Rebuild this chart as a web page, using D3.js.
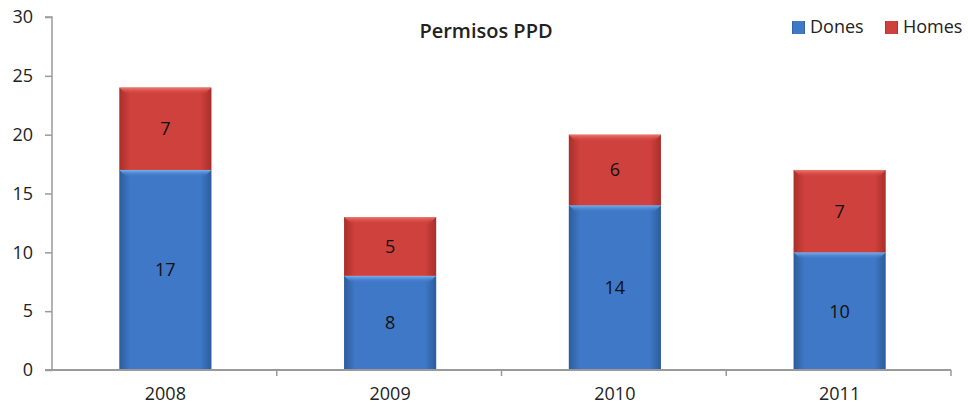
<!DOCTYPE html>
<html>
<head>
<meta charset="utf-8">
<script src="https://cdn.jsdelivr.net/npm/d3@7"></script>
<style>
  body { margin: 0; background: #fff; }
  text { font-family: "Open Sans", "DejaVu Sans", sans-serif; fill: #222; }
</style>
</head>
<body>
<div class="container"></div>
<script>
(function () {

    //chart data
    var years = ["2008", "2009", "2010", "2011"];
    var dones = [17, 8, 14, 10];
    var homes = [7, 5, 6, 7];
    var seriesNames = ["Dones", "Homes"];
    var yTicks = [0, 5, 10, 15, 20, 25, 30];

    var width = 968, height = 409;
    var margin = { top: 17, right: 17, bottom: 39, left: 52 };

    var svg = d3.select(".container")
        .append("svg")
        .attr("width", width)
        .attr("height", height);

    var defs = svg.append("defs");

    //bar gradients, dark edges and light middle
    function makeGrad(id, edge, mid, top) {
        var g = defs.append("linearGradient")
            .attr("id", id)
            .attr("x1", "0").attr("x2", "1").attr("y1", "0").attr("y2", "0");
        g.append("stop").attr("offset", "0%").attr("stop-color", edge);
        g.append("stop").attr("offset", "12%").attr("stop-color", mid);
        g.append("stop").attr("offset", "88%").attr("stop-color", mid);
        g.append("stop").attr("offset", "100%").attr("stop-color", edge);
        var t = defs.append("linearGradient")
            .attr("id", id + "Top")
            .attr("x1", "0").attr("x2", "0").attr("y1", "0").attr("y2", "1");
        t.append("stop").attr("offset", "0%").attr("stop-color", top).attr("stop-opacity", 1);
        t.append("stop").attr("offset", "100%").attr("stop-color", mid).attr("stop-opacity", 0);
    }
    makeGrad("gBlue", "#2d5c9c", "#3f78c6", "#7ab2f2");
    makeGrad("gRed", "#a92e2b", "#cf413c", "#ee7a72");

    var x = d3.scaleBand()
        .domain(years)
        .range([margin.left, width - margin.right])
        .paddingInner(0.59)
        .paddingOuter(0.295);

    var y = d3.scaleLinear()
        .domain([0, 30])
        .range([height - margin.bottom, margin.top]);

    //stack the two series
    var rows = years.map(function (yr, i) {
        return { year: yr, Dones: dones[i], Homes: homes[i] };
    });
    var stacked = d3.stack().keys(seriesNames)(rows);
    var fills = { Dones: "gBlue", Homes: "gRed" };

    stacked.forEach(function (layer) {
        var g = svg.append("g").attr("class", "layer " + layer.key);
        var seg = g.selectAll("g")
            .data(layer)
            .enter()
            .append("g");

        seg.append("rect")
            .attr("x", function (d) { return x(d.data.year) + 1; })
            .attr("y", function (d) { return y(d[1]); })
            .attr("width", x.bandwidth())
            .attr("height", function (d) { return y(d[0]) - y(d[1]); })
            .style("fill", "url(#" + fills[layer.key] + ")");

        //top bevel highlight
        seg.append("path")
            .attr("d", function (d) {
                var x0 = x(d.data.year) + 1, x1 = x0 + x.bandwidth(), t = y(d[1]), b = 7;
                return "M" + x0 + "," + t + "L" + x1 + "," + t +
                    "L" + (x1 - b) + "," + (t + b) + "L" + (x0 + b) + "," + (t + b) + "Z";
            })
            .style("fill", "url(#" + fills[layer.key] + "Top)");

        seg.append("text")
            .attr("x", function (d) { return x(d.data.year) + 1 + x.bandwidth() / 2; })
            .attr("y", function (d) { return (y(d[0]) + y(d[1])) / 2; })
            .attr("dy", "0.36em")
            .attr("text-anchor", "middle")
            .style("font-size", "18px")
            .style("fill", "#111")
            .text(function (d) { return d[1] - d[0]; });
    });

    //y axis
    var yAxis = d3.axisLeft(y)
        .tickValues(yTicks)
        .tickSize(7)
        .tickPadding(12);
    var ya = svg.append("g")
        .attr("transform", "translate(" + margin.left + ",0)")
        .call(yAxis);
    ya.select(".domain").attr("d", "M-7," + y(30) + "H0V" + y(0))
        .style("stroke", "#9a9a9a").style("stroke-width", 1.5);
    ya.selectAll(".tick line").style("stroke", "#9a9a9a").style("stroke-width", 1.5);
    ya.selectAll(".tick text").style("font-size", "18px").style("fill", "#222")
        .attr("font-family", null);

    //x axis with ticks between categories
    var xa = svg.append("g")
        .attr("transform", "translate(0," + y(0) + ")");
    xa.append("line")
        .attr("x1", margin.left - 7).attr("x2", width - margin.right)
        .style("stroke", "#9a9a9a").style("stroke-width", 2);
    var bounds = d3.range(1, years.length + 1).map(function (i) {
        return margin.left + i * (width - margin.right - margin.left) / years.length;
    });
    xa.selectAll(".xtick")
        .data(bounds)
        .enter()
        .append("line")
        .attr("x1", function (d) { return d; })
        .attr("x2", function (d) { return d; })
        .attr("y1", 0).attr("y2", 6)
        .style("stroke", "#9a9a9a").style("stroke-width", 1.5);
    xa.selectAll(".xlabel")
        .data(years)
        .enter()
        .append("text")
        .attr("x", function (d) { return x(d) + 1 + x.bandwidth() / 2; })
        .attr("y", 30)
        .attr("text-anchor", "middle")
        .style("font-size", "18px")
        .text(function (d) { return d; });

    //title
    svg.append("text")
        .attr("x", 486)
        .attr("y", 38)
        .attr("text-anchor", "middle")
        .style("font-size", "20px")
        .style("font-weight", "600")
        .text("Permisos PPD");

    //legend
    var legX = [792, 885];
    var leg = svg.selectAll(".leg")
        .data(seriesNames)
        .enter()
        .append("g")
        .attr("transform", function (d, i) { return "translate(" + legX[i] + ",21)"; });
    leg.append("rect")
        .attr("width", 13).attr("height", 13)
        .style("fill", function (d) { return "url(#" + fills[d] + ")"; });
    leg.append("text")
        .attr("x", 18).attr("y", 12)
        .style("font-size", "18px")
        .text(function (d) { return d; });

})();
</script>
</body>
</html>
